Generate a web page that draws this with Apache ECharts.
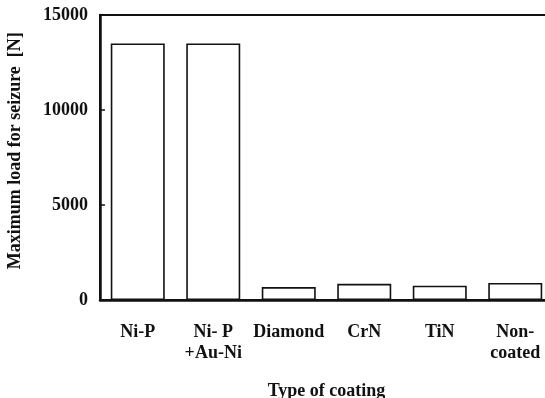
<!DOCTYPE html>
<html>
<head>
<meta charset="utf-8">
<script src="https://cdn.jsdelivr.net/npm/echarts@6/dist/echarts.min.js"></script>
<style>html,body{margin:0;padding:0;background:#fff;overflow:hidden}#c{width:553px;height:398px}</style>
</head>
<body>
<div id="c"></div>
<script>
const categories = ['Ni-P', 'Ni- P\n+Au-Ni', 'Diamond', 'CrN', 'TiN', 'Non-\ncoated'];
const values = [13500, 13500, 680, 850, 750, 900];
const yTicks = [0, 5000, 10000, 15000];

const font = 'Liberation Serif';
const chart = echarts.init(document.getElementById('c'));
chart.setOption({
  animation: false,
  backgroundColor: '#fff',
  grid: { left: 100, right: 0, top: 15, bottom: 98, show: true, borderColor: '#111', borderWidth: 2, containLabel: false, outerBoundsMode: 'none' },
  xAxis: {
    type: 'category',
    data: categories,
    name: 'Type of coating',
    nameLocation: 'middle',
    nameGap: 82,
    nameTextStyle: { fontFamily: font, fontWeight: 'bold', fontSize: 18, color: '#111' },
    axisLine: { lineStyle: { color: '#111', width: 2.5 } },
    axisTick: { show: false },
    axisLabel: { fontFamily: font, fontWeight: 'bold', fontSize: 18, color: '#111', margin: 22, lineHeight: 21, interval: 0 }
  },
  yAxis: {
    type: 'value',
    min: yTicks[0],
    max: yTicks[yTicks.length - 1],
    interval: 5000,
    name: '   Maximum load for seizure  [N]',
    nameLocation: 'middle',
    nameGap: 76,
    nameTextStyle: { fontFamily: font, fontWeight: 'bold', fontSize: 18, color: '#111' },
    splitLine: { show: false },
    axisLine: { show: true, lineStyle: { color: '#111', width: 2.5 } },
    axisTick: { show: true, inside: true, length: 5, lineStyle: { color: '#111', width: 1.5 } },
    axisLabel: { fontFamily: font, fontWeight: 'bold', fontSize: 18, color: '#111', margin: 12, formatter: v => String(v) }
  },
  series: [{
    type: 'bar',
    data: values,
    barWidth: 54,
    itemStyle: { color: '#fff', borderColor: '#111', borderWidth: 1.6 }
  }]
});
</script>
</body>
</html>
